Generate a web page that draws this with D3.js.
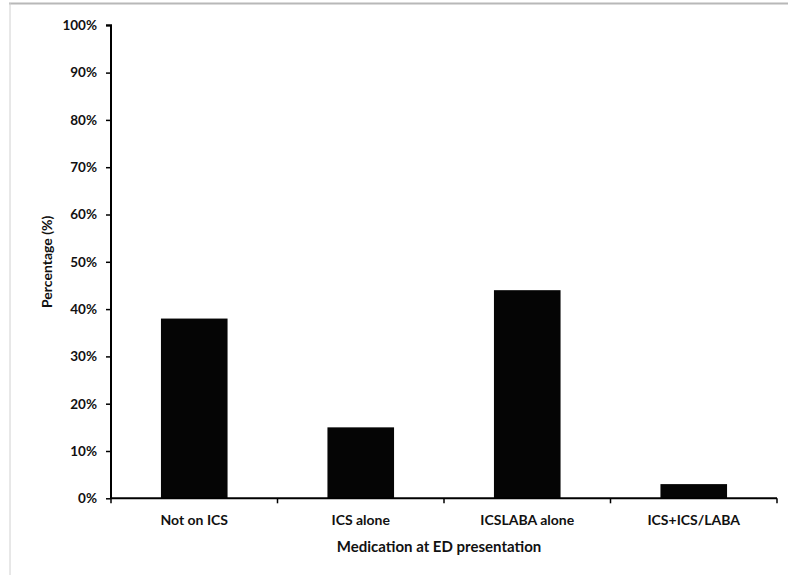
<!DOCTYPE html>
<html>
<head>
<meta charset="utf-8">
<script src="https://cdn.jsdelivr.net/npm/d3@7"></script>
<style>
  html, body { margin: 0; padding: 0; background: #fff; }
  svg { display: block; }
  text { font-family: Lato, "Open Sans", sans-serif; font-weight: 700; fill: #111; }
</style>
</head>
<body>
<svg id="chart" width="788" height="575"></svg>
<script>
const categories = ["Not on ICS", "ICS alone", "ICSLABA alone", "ICS+ICS/LABA"];
const values = [38, 15, 44, 3];
const yTicks = [0, 10, 20, 30, 40, 50, 60, 70, 80, 90, 100];
const yTitle = "Percentage (%)";
const xTitle = "Medication at ED presentation";

const svg = d3.select("#chart");
const W = 788, H = 575;
const m = { left: 111, right: 11, top: 25.3, bottom: 76.7 };
const iw = W - m.left - m.right, ih = H - m.top - m.bottom;

// frame
svg.append("line").attr("x1", 9).attr("x2", W).attr("y1", 3.5).attr("y2", 3.5)
  .attr("stroke", "#b8b8b8").attr("stroke-width", 2);
svg.append("line").attr("x1", 10).attr("x2", 10).attr("y1", 3).attr("y2", H)
  .attr("stroke", "#d0d0d0").attr("stroke-width", 1);

const g = svg.append("g").attr("transform", `translate(${m.left},${m.top})`);

const x = d3.scaleBand().domain(categories).range([0, iw]).paddingInner(0.6).paddingOuter(0.3);
const y = d3.scaleLinear().domain([0, 100]).range([ih, 0]);

g.selectAll("rect.bar").data(categories).join("rect")
  .attr("class", "bar")
  .attr("x", d => x(d))
  .attr("width", x.bandwidth())
  .attr("y", (d, i) => y(values[i]))
  .attr("height", (d, i) => ih - y(values[i]))
  .attr("fill", "#050505");

// y axis
const yAxis = g.append("g").call(d3.axisLeft(y).tickValues(yTicks).tickSize(5).tickPadding(9).tickFormat(d => d + "%"));
yAxis.select(".domain").attr("d", `M0,${ih}V0H-5`).attr("stroke", "#000").attr("stroke-width", 2);
yAxis.selectAll(".tick line").attr("stroke", "#000").attr("stroke-width", 1.5);
yAxis.selectAll(".tick text").attr("font-size", 13.5).attr("fill", "#222");

// x axis with ticks at band boundaries
const xg = g.append("g").attr("transform", `translate(0,${ih})`);
xg.append("line").attr("x1", 0).attr("x2", iw).attr("y1", 0).attr("y2", 0)
  .attr("stroke", "#000").attr("stroke-width", 2);
const step = x.step();
const bounds = d3.range(categories.length + 1).map(i => i * step);
xg.selectAll("line.tk").data(bounds).join("line").attr("class", "tk")
  .attr("x1", d => d).attr("x2", d => d).attr("y1", 0).attr("y2", 5)
  .attr("stroke", "#000").attr("stroke-width", 1.5);
xg.selectAll("text.lbl").data(categories).join("text").attr("class", "lbl")
  .attr("x", d => x(d) + x.bandwidth() / 2).attr("y", 27)
  .attr("text-anchor", "middle").attr("font-size", 14).attr("fill", "#222")
  .text(d => d);

svg.append("text").attr("x", m.left + iw / 2 - 5).attr("y", 552)
  .attr("text-anchor", "middle").attr("font-size", 15).attr("fill", "#222").text(xTitle);
svg.append("text")
  .attr("transform", `translate(${47},${m.top + ih / 2}) rotate(-90)`)
  .attr("text-anchor", "middle").attr("dy", "0.35em").attr("font-size", 14).attr("fill", "#222").text(yTitle);
</script>
</body>
</html>
